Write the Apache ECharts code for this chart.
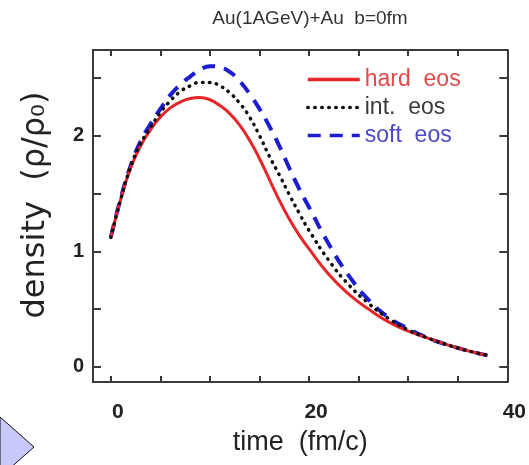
<!DOCTYPE html>
<html><head><meta charset="utf-8">
<script src="https://cdn.jsdelivr.net/npm/echarts@6/dist/echarts.min.js"></script>
<style>html,body{margin:0;padding:0;background:#fff}#c{width:529px;height:465px}</style>
</head><body><div id="c"></div>
<script>
const times = [0,1,2,3,4,5,6,7,8,9,10,11,12,13,14,15,16,17,18,19,20,22,24,26,28,30,32,34,36,38];
const hardEos = [1.12,1.45,1.72,1.91,2.05,2.16,2.24,2.29,2.32,2.33,2.31,2.26,2.19,2.09,1.96,1.80,1.62,1.44,1.28,1.14,1.02,0.80,0.63,0.50,0.39,0.31,0.25,0.19,0.14,0.10];
const intEos  = [1.12,1.45,1.73,1.93,2.07,2.20,2.30,2.38,2.43,2.46,2.46,2.43,2.37,2.28,2.16,2.00,1.82,1.66,1.49,1.33,1.18,0.92,0.71,0.55,0.42,0.32,0.25,0.19,0.14,0.10];
const softEos = [1.12,1.46,1.74,1.95,2.10,2.23,2.35,2.44,2.51,2.57,2.60,2.59,2.55,2.47,2.36,2.23,2.08,1.91,1.72,1.54,1.38,1.06,0.79,0.58,0.43,0.33,0.25,0.19,0.14,0.10];
const xTicks = [0,5,10,15,20,25,30,35,40];
const xLabels = [0,20,40];
const yTicks = [0,0.5,1,1.5,2,2.5];
const yLabels = [0,1,2];
const names = ['hard  eos','int.  eos','soft  eos'];

const pair = (ys) => times.map((t,i)=>[t,ys[i]]);
const font = 'Liberation Sans, Arial, sans-serif';
const frame = {show:true, onZero:false, lineStyle:{color:'#3a3a3a', width:2}};
const tick = (len) => ({inside:true, length:len, lineStyle:{color:'#3a3a3a', width:2}});

const chart = echarts.init(document.getElementById('c'));
chart.setOption({
  animation:false,
  title:{text:'Au(1AGeV)+Au  b=0fm', left:305, top:4, textAlign:'center',
    textStyle:{fontFamily:font, fontSize:19, fontWeight:'normal', color:'#333'}},
  grid:{left:93, right:21, top:50, bottom:83},
  legend:{orient:'vertical', left:301, top:63, itemWidth:52, itemHeight:14, itemGap:5,
    itemStyle:{opacity:0},
    lineStyle:{width:3.5},
    textStyle:{fontFamily:font, fontSize:23},
    data:[
      {name:names[0], textStyle:{color:'#e04a4a'}},
      {name:names[1], textStyle:{color:'#3a3a3a'}},
      {name:names[2], textStyle:{color:'#4a4ac8'}}
    ]},
  xAxis:[
    {type:'value', min:-1.8, max:40, position:'bottom',
     name:'time  (fm/c)', nameLocation:'middle', nameGap:47,
     nameTextStyle:{fontFamily:font, fontSize:27, color:'#222'},
     axisLine:frame, splitLine:{show:false},
     axisTick:Object.assign(tick(6), {customValues:xTicks}),
     axisLabel:{customValues:xLabels, margin:20, padding:[0,0,0,14], fontFamily:font, fontSize:21, fontWeight:'bold', color:'#222'}},
    {type:'value', min:-1.8, max:40, position:'top',
     axisLine:frame, splitLine:{show:false},
     axisTick:Object.assign(tick(6), {customValues:xTicks}),
     axisLabel:{show:false}}
  ],
  yAxis:[
    {type:'value', min:-0.13, max:2.74, position:'left',
     name:'density  (ρ/ρ₀)', nameLocation:'middle', nameGap:41, nameRotate:90,
     nameTextStyle:{fontFamily:'DejaVu Sans, sans-serif', fontSize:32, color:'#222', padding:[0,0,0,22]},
     axisLine:frame, splitLine:{show:false},
     axisTick:Object.assign(tick(8), {customValues:yTicks}),
     axisLabel:{customValues:yLabels, margin:9, fontFamily:font, fontSize:20, fontWeight:'bold', color:'#222'}},
    {type:'value', min:-0.13, max:2.74, position:'right',
     axisLine:frame, splitLine:{show:false},
     axisTick:Object.assign(tick(8), {customValues:yTicks}),
     axisLabel:{show:false}}
  ],
  series:[
    {name:names[0], type:'line', smooth:true, symbol:'none', data:pair(hardEos),
     lineStyle:{color:'#e8262a', width:3}, itemStyle:{color:'#e8262a'}, z:3},
    {name:names[1], type:'line', smooth:true, symbol:'none', data:pair(intEos),
     lineStyle:{color:'#111', width:3.5, type:[0.5,6.5], cap:'round'}, itemStyle:{color:'#111'}, z:4},
    {name:names[2], type:'line', smooth:true, symbol:'none', data:pair(softEos),
     lineStyle:{color:'#1c1cd0', width:4, type:[13,9]}, itemStyle:{color:'#1c1cd0'}, z:2}
  ],
  graphic:[
    {type:'polygon', shape:{points:[[0,417],[34,447],[0,477]]},
     style:{fill:'#c8c8fa', stroke:'#111', lineWidth:1}}
  ]
});
</script></body></html>
